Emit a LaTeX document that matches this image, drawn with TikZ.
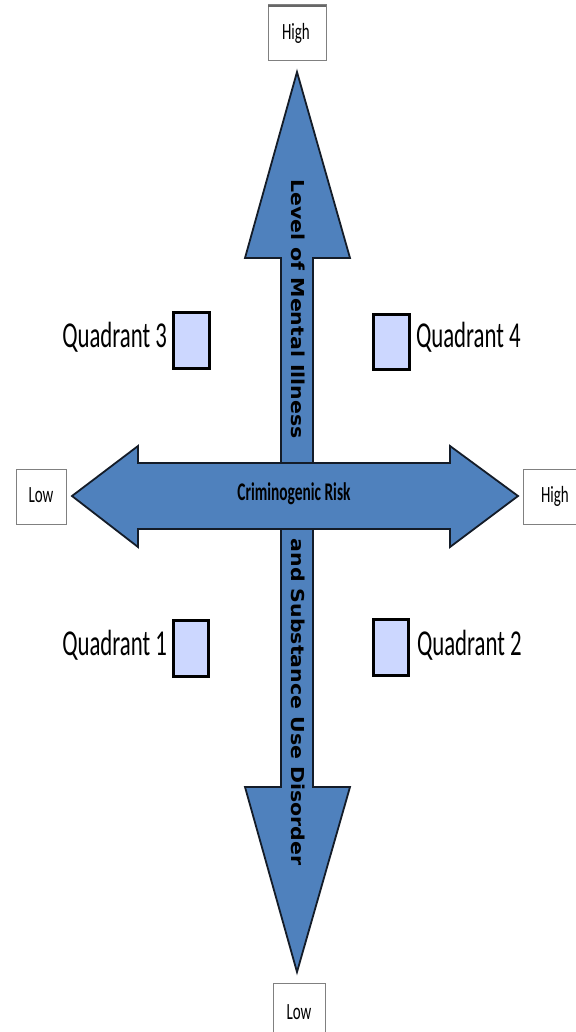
\documentclass[tikz,border=0pt]{standalone}
\usepackage{fontspec}
\usepackage{graphicx}
\setmainfont{Carlito}
\newfontfamily\verafont{DejaVu Sans}
\definecolor{axisblue}{RGB}{79,129,189}
\definecolor{axisedge}{RGB}{20,28,40}
\definecolor{quadfill}{RGB}{204,215,255}
\definecolor{boxedge}{RGB}{128,128,128}
\newcommand{\tallA}[1]{\scalebox{1}[1.6]{\fontsize{11.4pt}{13pt}\selectfont #1}}
\newcommand{\tallB}[1]{\scalebox{1}[1.55]{\fontsize{7.5pt}{9pt}\selectfont #1}}
\newcommand{\tallC}[1]{\scalebox{1}[1.65]{\fontsize{7.7pt}{9pt}\selectfont\bfseries #1}}
\newcommand{\axislabel}[1]{\scalebox{1.15}[1]{\verafont\bfseries\fontsize{8.9pt}{10pt}\selectfont #1}}
\begin{document}
\begin{tikzpicture}[x=0.5pt,y=-0.5pt,
  axisarrow/.style={fill=axisblue,draw=axisedge,line width=0.9pt,line join=miter},
  quadbox/.style={draw=black,fill=quadfill,line width=1.5pt},
  endbox/.style={draw=boxedge,fill=white,line width=0.5pt},
  plain/.style={inner sep=0pt,outer sep=0pt}]
\useasboundingbox (0,0) rectangle (575,1032);
\fill[white] (0,0) rectangle (575,1032);

% vertical double arrow
\draw[axisarrow] (297,72) -- (350,258) -- (313,258) -- (313,787) -- (350,787)
  -- (297,972) -- (245,787) -- (281,787) -- (281,258) -- (245,258) -- cycle;
% horizontal double arrow on top
\draw[axisarrow] (72,496) -- (138,446) -- (138,463) -- (450,463) -- (450,446)
  -- (518,496) -- (450,547) -- (450,529) -- (138,529) -- (138,547) -- cycle;

% axis texts
\node[plain,rotate=-90] (ylabtop) at (298,309) {\axislabel{Level of Mental Illness}};
\node[plain,rotate=-90] (ylabbot) at (298,702) {\axislabel{and Substance Use Disorder}};
\node[plain,anchor=base] (xlab) at (294,500) {\tallC{Criminogenic Risk}};

% end boxes
\path[endbox] (268,5) rectangle (326,61);
\draw[boxedge!80!black,line width=1.4pt] (268,6) -- (326,6);
\node[plain,anchor=base] (tophigh) at (296,40) {\tallB{High}};
\path[endbox] (16,469) rectangle (66,524);
\node[plain,anchor=base] (leftlow) at (41,502) {\tallB{Low}};
\path[endbox] (523,469) rectangle (580,524);
\node[plain,anchor=base] (righthigh) at (555,502) {\tallB{High}};
\path[endbox] (273,983) rectangle (325,1040);
\node[plain,anchor=base] (bottomlow) at (299,1019) {\tallB{Low}};

% quadrant markers
\path[quadbox] (173,312) rectangle (209,368);
\path[quadbox] (373,314) rectangle (409,369);
\path[quadbox] (173,620) rectangle (208,676);
\path[quadbox] (373,619) rectangle (408,675);
\node[plain,anchor=base east] (q3) at (167,347) {\tallA{Quadrant 3}};
\node[plain,anchor=base west] (q4) at (416,347) {\tallA{Quadrant 4}};
\node[plain,anchor=base east] (q1) at (167,655) {\tallA{Quadrant 1}};
\node[plain,anchor=base west] (q2) at (417,655) {\tallA{Quadrant 2}};
\end{tikzpicture}
\end{document}
